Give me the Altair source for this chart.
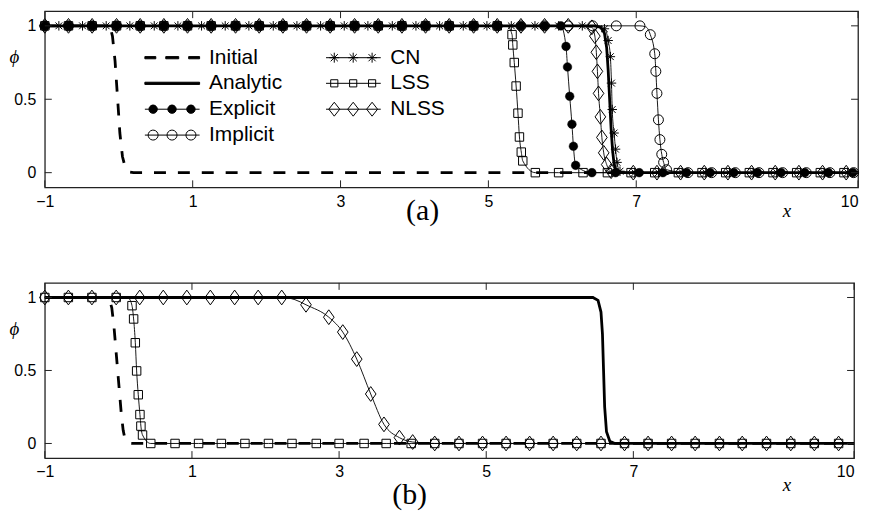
import math
import altair as alt
import pandas as pd

# ---------------- data ----------------
# common marker abscissae along the plateaus
G = [-1.00, -0.68, -0.36, -0.03, 0.29, 0.61, 0.93, 1.25, 1.58, 1.90, 2.22, 2.54,
     2.86, 3.19, 3.51, 3.83, 4.15, 4.47, 4.80, 5.12, 5.44, 5.76, 6.08, 6.41,
     6.73, 7.05, 7.37, 7.69, 8.02, 8.34, 8.66, 8.98, 9.30, 9.63, 9.95]

# ---- panel (a) ----
A_INIT_X = [-1.0, -0.12, -0.085, -0.05, -0.015, 0.015, 0.05, 0.085, 0.13, 0.20, 10.0]
A_INIT_Y = [1.0, 1.0, 0.93, 0.76, 0.50, 0.27, 0.11, 0.04, 0.005, 0.0, 0.0]
A_ANA_X = [-1.0, 6.45, 6.52, 6.57, 6.60, 6.62, 6.64, 6.66, 6.68, 6.70, 6.73, 6.78, 10.0]
A_ANA_Y = [1.0, 1.0, 0.99, 0.95, 0.85, 0.70, 0.50, 0.30, 0.15, 0.06, 0.01, 0.0, 0.0]

A_EXP_X = G[:22] + [5.98, 6.05, 6.07, 6.10, 6.13, 6.15, 6.18, 6.40,
                    6.72, 7.04, 7.36, 7.68, 8.00, 8.32, 8.64, 8.96, 9.28, 9.60, 9.93]
A_EXP_Y = [1.0] * 22 + [1.0, 0.86, 0.72, 0.52, 0.33, 0.18, 0.05, 0.0] + [0.0] * 11

A_IMP_X = G[:26] + [7.19, 7.25, 7.265, 7.28, 7.30, 7.32, 7.345, 7.37, 7.41,
                    7.70, 8.02, 8.34, 8.66, 8.98, 9.30, 9.62, 9.94]
A_IMP_Y = [1.0] * 26 + [0.94, 0.81, 0.69, 0.54, 0.36, 0.225, 0.125, 0.07, 0.02] + [0.0] * 8

A_CN_X = [-0.81, -0.49, -0.17, 0.15, 0.48, 0.80, 1.12, 1.44, 1.76, 2.09, 2.41, 2.73,
          3.05, 3.37, 3.70, 4.02, 4.34, 4.66, 4.98, 5.31, 5.63, 5.95, 6.27,
          6.57, 6.62, 6.65, 6.665, 6.675, 6.70, 6.72, 6.74, 6.78,
          6.98, 7.30, 7.62, 7.94, 8.26, 8.58, 8.90, 9.22, 9.54, 9.86]
A_CN_Y = [1.0] * 23 + [0.98, 0.90, 0.79, 0.61, 0.43, 0.27, 0.16, 0.07, 0.01] + [0.0] * 10

A_LSS_X = G[:20] + [5.32, 5.33, 5.35, 5.375, 5.40, 5.42, 5.445, 5.465, 5.635,
                    5.95, 6.28, 6.61, 6.93, 7.25, 7.57, 7.89, 8.21, 8.53, 8.85, 9.17, 9.49, 9.81]
A_LSS_Y = [1.0] * 20 + [0.94, 0.87, 0.75, 0.59, 0.405, 0.243, 0.14, 0.08, 0.0] + [0.0] * 13

A_NLSS_X = G[:23] + [6.40, 6.44, 6.46, 6.475, 6.49, 6.515, 6.535, 6.56, 6.60, 6.66,
                     6.96, 7.28, 7.60, 7.92, 8.24, 8.56, 8.88, 9.20, 9.52, 9.84]
A_NLSS_Y = [1.0] * 23 + [0.99, 0.93, 0.82, 0.69, 0.54, 0.38, 0.24, 0.135, 0.055, 0.01] + [0.0] * 10

# points where thin curves leave the plateau (line only, no marker)
A_LINE_EXTRA = {"LSS": [(5.26, 0.995)], "Implicit": [(7.13, 0.993)]}

# ---- panel (b) ----
B_INIT_X = [-1.0, -0.13, -0.09, -0.06, -0.035, -0.01, 0.015, 0.04, 0.065, 0.09, 0.13, 0.20, 10.0]
B_INIT_Y = [1.0, 1.0, 0.93, 0.80, 0.65, 0.50, 0.35, 0.20, 0.09, 0.03, 0.003, 0.0, 0.0]
B_ANA_X = [-1.0, 6.45, 6.52, 6.56, 6.58, 6.595, 6.61, 6.635, 6.68, 6.75, 10.0]
B_ANA_Y = [1.0, 1.0, 0.98, 0.90, 0.75, 0.50, 0.25, 0.08, 0.015, 0.0, 0.0]

B_ZERO_TAIL = [4.63, 4.95, 5.27, 5.59, 5.91, 6.23, 6.56, 6.88, 7.20, 7.52, 7.84, 8.17,
               8.48, 8.81, 9.14, 9.46, 9.79]
B_LSS_X = G[:4] + [0.185, 0.207, 0.23, 0.248, 0.27, 0.293, 0.306, 0.328, 0.44,
                   0.77, 1.09, 1.40, 1.72, 2.04, 2.36, 2.69, 3.00, 3.34, 3.64, 3.98, 4.30] + B_ZERO_TAIL
B_LSS_Y = [1.0] * 4 + [0.944, 0.853, 0.69, 0.497, 0.334, 0.198, 0.119, 0.058, 0.0] + [0.0] * 12 + [0.0] * 17
B_NLSS_X = G[:11] + [2.55, 2.86, 3.05, 3.24, 3.43, 3.61, 3.82, 4.00, 4.30] + B_ZERO_TAIL
B_NLSS_Y = [1.0] * 11 + [0.95, 0.865, 0.763, 0.578, 0.339, 0.131, 0.04, 0.01, 0.0] + [0.0] * 17
B_LINE_EXTRA = {"LSS": [(0.14, 0.993)], "NLSS": [(2.40, 0.985)]}

X_TICKS = [-1, 1, 3, 5, 7, 10]
Y_TICKS = [0, 0.5, 1]

# legend is filled column by column: Initial, Analytic, Explicit, Implicit | CN, LSS, NLSS
LEG_ORDER = ["Initial", "Analytic", "Explicit", "Implicit", "CN", "LSS", "NLSS"]

# ---------------- marker / legend glyph geometry ----------------
def poly_circle(cx, r, n=18):
    pts = [(cx + r * math.cos(2 * math.pi * i / n), r * math.sin(2 * math.pi * i / n)) for i in range(n)]
    return "M" + "L".join(f"{a:.3f},{b:.3f}" for a, b in pts) + "Z"

def sq(cx, h):
    return f"M{cx-h:.3f},{-h:.3f}H{cx+h:.3f}V{h:.3f}H{cx-h:.3f}Z"

def dia(cx, w, h):
    return f"M{cx:.3f},{-h:.3f}L{cx+w:.3f},0L{cx:.3f},{h:.3f}L{cx-w:.3f},0Z"

def ast(cx, a):
    d = a * 0.72
    return (f"M{cx-a:.3f},0H{cx+a:.3f}M{cx:.3f},{-a:.3f}V{a:.3f}"
            f"M{cx-d:.3f},{-d:.3f}L{cx+d:.3f},{d:.3f}M{cx-d:.3f},{d:.3f}L{cx+d:.3f},{-d:.3f}")

L0, L1 = -1.0, 4.5
MK = [-0.17, 1.73, 3.63]
BASE = f"M{L0},0H{L1}"
LEG_PATH = {
    "Initial": "M-1,-0.11H0.1V0.11H-1Z M1.1,-0.11H2.4V0.11H1.1Z M3.4,-0.11H4.5V0.11H3.4Z",
    "Analytic": "M-1,-0.11H4.5V0.11H-1Z",
    "Explicit": BASE + "".join(poly_circle(c, 0.42) for c in MK),
    "Implicit": BASE + "".join(poly_circle(c, 0.5) for c in MK),
    "CN": BASE + "".join(ast(c, 0.5) for c in MK),
    "LSS": BASE + "".join(sq(c, 0.36) for c in MK),
    "NLSS": BASE + "".join(dia(c, 0.55, 0.7) for c in MK),
}
LEG_FILL = {"Initial": "black", "Analytic": "black", "Explicit": "black", "Implicit": "transparent",
            "CN": "transparent", "LSS": "transparent", "NLSS": "transparent"}

DIAMOND = "M0,-1L0.72,0L0,1L-0.72,0Z"
ASTER = "M-1,0H1M0,-1V1M-0.72,-0.72L0.72,0.72M-0.72,0.72L0.72,-0.72"
MARK_STYLE = {
    "Explicit": dict(shape="circle", size=75, filled=True),
    "Implicit": dict(shape="circle", size=100, filled=False),
    "CN": dict(shape=ASTER, size=90, filled=False),
    "LSS": dict(shape="square", size=72, filled=False),
    "NLSS": dict(shape=DIAMOND, size=220, filled=False),
}

XS = alt.Scale(domain=[-1, 10], nice=False, zero=False)
YS = alt.Scale(domain=[-0.1, 1.1], nice=False, zero=False)
SANS = "Liberation Sans"
SERIF = "Liberation Serif"


def axes(xtitle_y):
    xa = alt.Axis(values=X_TICKS, format="~r", ticks=False, tickSize=0, domain=False, grid=False,
                  labelFont=SANS, labelFontSize=16, labelColor="black", labelPadding=6,
                  labelFlush=False,
                  labelAlign={"condition": {"test": "datum.value >= 10", "value": "right"},
                              "value": "center"},
                  title="x", titleFont=SERIF, titleFontStyle="italic",
                  titleFontWeight="normal", titleFontSize=19, titleColor="black",
                  titleX=745, titleY=xtitle_y, titleAlign="center", titleBaseline="middle")
    ya = alt.Axis(values=Y_TICKS, format="~r", ticks=False, tickSize=0, domain=False, grid=False,
                  labelFont=SANS, labelFontSize=16, labelColor="black", labelPadding=9,
                  title="ϕ", titleFont=SERIF, titleFontStyle="italic", titleFontWeight="normal",
                  titleFontSize=19, titleColor="black", titleAngle=0, titleX=-31, titleY=46,
                  titleAlign="center", titleBaseline="middle")
    return xa, ya


def panel(series, extra, W, H, title, t_off, t_dx, xtitle_y, legend):
    xa, ya = axes(xtitle_y)
    X = lambda f: alt.X(f, type="quantitative", scale=XS, axis=xa)
    Y = lambda f: alt.Y(f, type="quantitative", scale=YS, axis=ya)
    layers = []
    for name, xs, ys in series:
        if name != "Initial":
            continue
        df = pd.DataFrame({"x": xs, "phi": ys})
        layers.append(alt.Chart(df).mark_line(color="black", strokeWidth=2.8, strokeCap="butt",
                                              strokeDash=[12, 12]).encode(x=X("x"), y=Y("phi")))
    # method curves with markers
    for name, xs, ys in series:
        if name in ("Initial", "Analytic"):
            continue
        pts = list(zip(xs, ys)) + extra.get(name, [])
        if xs[0] > -1:
            pts.append((-1.0, 1.0))
        pts.append((10.0, 0.0))
        pts.sort()
        ldf = pd.DataFrame(pts, columns=["x", "phi"])
        layers.append(alt.Chart(ldf).mark_line(color="black", strokeWidth=0.9,
                                               interpolate="monotone").encode(x=X("x"), y=Y("phi")))
    for name, xs, ys in series:
        if name in ("Initial", "Analytic"):
            continue
        st = MARK_STYLE[name]
        mdf = pd.DataFrame({"x": xs, "phi": ys})
        if st["filled"]:
            mk = alt.Chart(mdf).mark_point(shape=st["shape"], size=st["size"], filled=True,
                                           fill="black", stroke="black", strokeWidth=0.5, opacity=1)
        else:
            mk = alt.Chart(mdf).mark_point(shape=st["shape"], size=st["size"], filled=False,
                                           stroke="black", fill="transparent", strokeWidth=1, opacity=1)
        layers.append(mk.encode(x=X("x"), y=Y("phi")))
    for name, xs, ys in series:
        if name == "Analytic":
            df = pd.DataFrame({"x": xs, "phi": ys})
            layers.append(alt.Chart(df).mark_line(color="black", strokeWidth=2.8).encode(x=X("x"), y=Y("phi")))
    # inward ticks
    xt = pd.DataFrame({"t": X_TICKS})
    yt = pd.DataFrame({"t": Y_TICKS})
    tick = dict(color="#222", strokeWidth=1)
    layers.append(alt.Chart(xt).mark_rule(**tick).encode(x=X("t"), y=alt.value(0), y2=alt.value(7)))
    layers.append(alt.Chart(xt).mark_rule(**tick).encode(x=X("t"), y=alt.value(H), y2=alt.value(H - 7)))
    layers.append(alt.Chart(yt).mark_rule(**tick).encode(y=Y("t"), x=alt.value(0), x2=alt.value(7)))
    layers.append(alt.Chart(yt).mark_rule(**tick).encode(y=Y("t"), x=alt.value(W - 7), x2=alt.value(W)))
    if legend:
        ldf = pd.DataFrame({"series": LEG_ORDER})
        lg = dict(title=None, orient="none", legendX=100, legendY=36, columns=2, columnPadding=41,
                  rowPadding=4, labelFont=SANS, labelFontSize=21, labelColor="black", labelOffset=44,
                  symbolSize=400, symbolStrokeWidth=1, symbolStrokeColor="black", padding=0,
                  labelLimit=0, symbolLimit=0, symbolOpacity=1)
        layers.append(
            alt.Chart(ldf).mark_point(size=0, strokeWidth=1, filled=False).encode(
                shape=alt.Shape("series:N", scale=alt.Scale(domain=LEG_ORDER,
                                                             range=[LEG_PATH[s] for s in LEG_ORDER]),
                                legend=alt.Legend(**lg)),
                fill=alt.Fill("series:N", scale=alt.Scale(domain=LEG_ORDER,
                                                           range=[LEG_FILL[s] for s in LEG_ORDER]),
                              legend=alt.Legend(**lg)),
                stroke=alt.Stroke("series:N", scale=alt.Scale(domain=LEG_ORDER,
                                                               range=["black"] * len(LEG_ORDER)),
                                  legend=alt.Legend(**lg)),
            )
        )
    return alt.layer(*layers).properties(
        width=W, height=H,
        title=alt.TitleParams(title, orient="bottom", anchor="middle", dx=t_dx,
                              offset=t_off, font=SERIF, fontSize=30, fontWeight="normal",
                              color="black"),
    )


top = panel(
    [("Initial", A_INIT_X, A_INIT_Y), ("Analytic", A_ANA_X, A_ANA_Y),
     ("Explicit", A_EXP_X, A_EXP_Y), ("Implicit", A_IMP_X, A_IMP_Y), ("CN", A_CN_X, A_CN_Y),
     ("LSS", A_LSS_X, A_LSS_Y), ("NLSS", A_NLSS_X, A_NLSS_Y)],
    A_LINE_EXTRA, 817, 177, "(a)", -24, -29, 23, True)

bottom = panel(
    [("Initial", B_INIT_X, B_INIT_Y), ("Analytic", B_ANA_X, B_ANA_Y),
     ("LSS", B_LSS_X, B_LSS_Y), ("NLSS", B_NLSS_X, B_NLSS_Y)],
    B_LINE_EXTRA, 813, 176, "(b)", -15, -40, 27, False)

chart = alt.vconcat(top, bottom, spacing=54).properties(
    padding={"left": 0, "top": 0, "right": 0, "bottom": 0}, background="white"
).configure_view(stroke="#222", strokeWidth=1.3)

chart.save("out.html", embed_options={"renderer": "svg", "actions": False})
